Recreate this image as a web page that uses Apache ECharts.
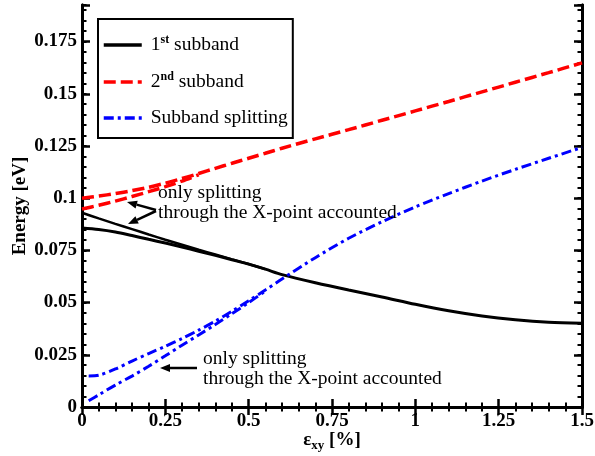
<!DOCTYPE html>
<html><head><meta charset="utf-8">
<script src="https://cdn.jsdelivr.net/npm/echarts/dist/echarts.min.js"></script>
<style>html,body{margin:0;padding:0;background:#fff}#c{width:595px;height:456px}</style>
</head><body><div id="c"></div>
<script>
// strain values (%)
const strainX = [0,0.05,0.1,0.15,0.2,0.25,0.3,0.35,0.4,0.45,0.5,0.55,0.6,0.7,0.8,0.9,1.0,1.1,1.2,1.3,1.4,1.5];
// 1st subband (full calculation)
const sub1 = [0.0857,0.0850,0.0838,0.0821,0.0803,0.0785,0.0766,0.0746,0.0726,0.0705,0.0684,0.0660,0.0634,0.0595,0.0560,0.0527,0.0492,0.0461,0.0436,0.0418,0.0406,0.0401];
// 1st subband, only splitting through the X-point accounted
const sub1X = [0.0930,0.0903,0.0877,0.0852,0.0826,0.0801,0.0777,0.0753,0.0730,0.0707,0.0685,0.0660];
// 2nd subband (full calculation)
const sub2 = [0.1000,0.1010,0.1022,0.1036,0.1052,0.1072,0.1094,0.1118,0.1143,0.1167,0.1191,0.1215,0.1239,0.1284,0.1328,0.1373,0.1418,0.1463,0.1509,0.1555,0.1601,0.1648];
// 2nd subband, only X-point splitting
const sub2X = [0.0948,0.0966,0.0986,0.1008,0.1031,0.1055,0.1082,0.1112];
// splitting strain values
const splitX = [0.02,0.05,0.1,0.15,0.2,0.25,0.3,0.35,0.4,0.45,0.5,0.55,0.6,0.7,0.8,0.9,1.0,1.1,1.2,1.3,1.4,1.5];
// subband splitting (full)
const split = [0.0149,0.0152,0.0182,0.0220,0.0256,0.0291,0.0328,0.0368,0.0411,0.0459,0.0509,0.0560,0.0613,0.0715,0.0808,0.0887,0.0958,0.1022,0.1082,0.1138,0.1191,0.1243];
// subband splitting, only X-point
const splitXp = [0.0030,0.0058,0.0105,0.0148,0.0195,0.0245,0.0296,0.0345,0.0395,0.0447,0.0500,0.0555];

const xTicks = [0,0.25,0.5,0.75,1,1.25,1.5];
const yTicks = [0,0.025,0.05,0.075,0.1,0.125,0.15,0.175];

const FONT = 'Liberation Serif';
const pairs = (xs, ys) => ys.map((v, i) => [xs[i], v]);

const chart = echarts.init(document.getElementById('c'), null, {renderer: 'canvas'});

const axisLine = {show: true, lineStyle: {color: '#000', width: 3}};
const majTick = {show: true, inside: true, length: 8, lineStyle: {color: '#000', width: 2.5}};
const minTickAxis = {show: true, inside: true, length: 4.5, lineStyle: {color: '#000', width: 2}};
const yMax = 0.1925;

function yLabel(v) {
  const hit = yTicks.find(t => Math.abs(t - v) < 1e-7);
  return hit === undefined ? '' : String(hit);
}

const xBase = {
  type: 'value', min: 0, max: 1.5, interval: 0.25,
  axisLine, axisTick: majTick,
  minorTick: {show: true, splitNumber: 5, length: 4.5, lineStyle: {color: '#000', width: 2}},
  splitLine: {show: false}, minorSplitLine: {show: false}
};

const option = {
  animation: false,
  backgroundColor: '#fff',
  grid: {left: 82, right: 13, top: 5, bottom: 49, containLabel: false, outerBoundsMode: 'none'},
  xAxis: [
    Object.assign({}, xBase, {
      position: 'bottom',
      axisLabel: {show: true, color: '#000', fontFamily: FONT, fontWeight: 'bold', fontSize: 19, margin: 5,
        formatter: v => { const hit = xTicks.find(t => Math.abs(t - v) < 1e-9); return hit === undefined ? '' : String(hit); }},
      name: '{e|ε}{sub|xy}{n| [%]}', nameLocation: 'middle', nameGap: 22, nameMoveOverlap: false,
      nameTextStyle: {rich: {
        e: {fontFamily: FONT, fontWeight: 'bold', fontSize: 19, color: '#000'},
        sub: {fontFamily: FONT, fontWeight: 'bold', fontSize: 13, color: '#000', padding: [10, 0, 0, 0]},
        n: {fontFamily: FONT, fontWeight: 'bold', fontSize: 19, color: '#000'}
      }}
    }),
    Object.assign({}, xBase, {position: 'top', axisLabel: {show: false}})
  ],
  yAxis: [
    {type: 'value', position: 'left', min: 0, max: yMax, interval: 0.025,
     axisLine, axisTick: majTick, splitLine: {show: false},
     axisLabel: {color: '#000', fontFamily: FONT, fontWeight: 'bold', fontSize: 19, margin: 5, formatter: yLabel},
     name: 'Energy [eV]', nameLocation: 'middle', nameGap: 52, nameRotate: 90, nameMoveOverlap: false,
     nameTextStyle: {color: '#000', fontFamily: FONT, fontWeight: 'bold', fontSize: 19}},
    {type: 'value', position: 'left', min: 0, max: yMax, interval: 0.005,
     axisLine, axisTick: minTickAxis, splitLine: {show: false}, axisLabel: {show: false}},
    {type: 'value', position: 'right', min: 0, max: yMax, interval: 0.025,
     axisLine, axisTick: majTick, splitLine: {show: false}, axisLabel: {show: false}},
    {type: 'value', position: 'right', min: 0, max: yMax, interval: 0.005,
     axisLine, axisTick: minTickAxis, splitLine: {show: false}, axisLabel: {show: false}}
  ],
  legend: {
    orient: 'vertical', left: 98, top: 19,
    data: ['1st subband', '2nd subband', 'Subband splitting'],
    itemWidth: 38, itemHeight: 14, itemGap: 15,
    padding: [15, 5, 10, 4],
    borderColor: '#000', borderWidth: 2, backgroundColor: '#fff',
    itemStyle: {opacity: 0, borderWidth: 0},
    lineStyle: {width: 3.5},
    formatter: function (name) {
      if (name === '1st subband') return '{t|1}{s|st}{t| subband}';
      if (name === '2nd subband') return '{t|2}{s|nd}{t| subband}';
      return '{t|' + name + '}';
    },
    textStyle: {color: '#000', fontFamily: FONT, fontSize: 19.5, padding: [0, 0, 0, 4],
      rich: {
        t: {fontFamily: FONT, fontSize: 19.5, color: '#000', lineHeight: 20},
        s: {fontFamily: FONT, fontSize: 12, fontWeight: 'bold', color: '#000', lineHeight: 20, padding: [0, 0, 10, 0]}
      }}
  },
  series: [
    {name: '1st subband', type: 'line', smooth: 0.3, symbol: 'none', data: pairs(strainX, sub1),
     lineStyle: {color: '#000', width: 3, type: 'solid'}, itemStyle: {color: '#000'}, z: 2},
    {name: '1st subband', type: 'line', smooth: 0.3, symbol: 'none', data: pairs(strainX, sub1X),
     lineStyle: {color: '#000', width: 2.5, type: 'solid'}, itemStyle: {color: '#000'}, z: 2},
    {name: '2nd subband', type: 'line', smooth: 0.3, symbol: 'none', data: pairs(strainX, sub2),
     lineStyle: {color: '#ff0000', width: 3.5, type: [12, 5]}, itemStyle: {color: '#ff0000'}, z: 3},
    {name: '2nd subband', type: 'line', smooth: 0.3, symbol: 'none', data: pairs(strainX, sub2X),
     lineStyle: {color: '#ff0000', width: 3.5, type: [12, 5]}, itemStyle: {color: '#ff0000'}, z: 3},
    {name: 'Subband splitting', type: 'line', smooth: 0.3, symbol: 'none', data: pairs(splitX, split),
     lineStyle: {color: '#0000ff', width: 3, type: [10, 4, 3, 4]}, itemStyle: {color: '#0000ff'}, z: 4},
    {name: 'Subband splitting', type: 'line', smooth: 0.3, symbol: 'none', data: pairs(splitX, splitXp),
     lineStyle: {color: '#0000ff', width: 3, type: [10, 4, 3, 4]}, itemStyle: {color: '#0000ff'}, z: 4}
  ],
  graphic: []
};

function arrow(x1, y1, x2, y2) {
  const ang = Math.atan2(y2 - y1, x2 - x1);
  const L = 10, W = 4;
  const bx = x2 - L * Math.cos(ang), by = y2 - L * Math.sin(ang);
  const px = -Math.sin(ang) * W, py = Math.cos(ang) * W;
  return [
    {type: 'line', shape: {x1, y1, x2: bx, y2: by}, style: {stroke: '#000', lineWidth: 2.5}, z: 10},
    {type: 'polygon', shape: {points: [[x2, y2], [bx + px, by + py], [bx - px, by - py]]}, style: {fill: '#000'}, z: 10}
  ];
}
const annFont = {fontFamily: FONT, fontSize: 19.5, fill: '#000', lineHeight: 19.5};
option.graphic = [
  {type: 'text', left: 158, top: 183, style: Object.assign({text: 'only splitting\nthrough the X-point accounted'}, annFont), z: 10},
  {type: 'text', left: 203, top: 349, style: Object.assign({text: 'only splitting\nthrough the X-point accounted'}, annFont), z: 10}
].concat(arrow(156, 210, 127, 202), arrow(156, 211, 128, 224), arrow(197, 368, 160, 368));

chart.setOption(option);
</script>
</body></html>
